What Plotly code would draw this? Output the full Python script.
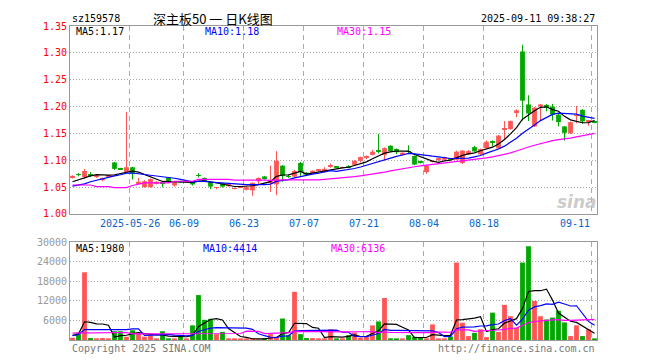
import plotly.graph_objects as go
import pandas as pd

# ---------------- data ----------------
holidays = ["2025-06-02"]
dates = [d.strftime("%Y-%m-%d") for d in pd.bdate_range("2025-05-12", "2025-09-11")
         if d.strftime("%Y-%m-%d") not in holidays]

open_ = [1.067, 1.074, 1.069, 1.073, 1.069, 1.063, 1.070, 1.096, 1.084, 1.078,
         1.087, 1.057, 1.050, 1.050, 1.056, 1.058, 1.068, 1.053, 1.061, 1.060,
         1.060, 1.072, 1.067, 1.060, 1.049, 1.057, 1.052, 1.047, 1.050, 1.045,
         1.044, 1.061, 1.070, 1.059, 1.055, 1.090, 1.070, 1.0695, 1.095, 1.077,
         1.0755, 1.081, 1.078, 1.089, 1.088, 1.086, 1.088, 1.0915, 1.099, 1.105,
         1.110, 1.119, 1.110, 1.127, 1.121, 1.110, 1.117, 1.108, 1.097, 1.078,
         1.097, 1.100, 1.101, 1.103, 1.101, 1.095, 1.111, 1.1245, 1.111, 1.1225,
         1.134, 1.122, 1.157, 1.158, 1.188, 1.3026, 1.204, 1.163, 1.200, 1.203,
         1.200, 1.185, 1.163, 1.150, 1.183, 1.194, 1.172, 1.173]
high = [1.072, 1.076, 1.084, 1.078, 1.072, 1.068, 1.072, 1.097, 1.086, 1.190,
        1.088, 1.067, 1.063, 1.066, 1.061, 1.059, 1.069, 1.060, 1.062, 1.063,
        1.061, 1.076, 1.068, 1.061, 1.050, 1.058, 1.057, 1.049, 1.052, 1.051,
        1.059, 1.068, 1.071, 1.090, 1.117, 1.091, 1.073, 1.082, 1.097, 1.078,
        1.081, 1.083, 1.087, 1.094, 1.089, 1.088, 1.091, 1.100, 1.107, 1.109,
        1.1195, 1.149, 1.124, 1.128, 1.122, 1.115, 1.128, 1.109, 1.099, 1.091,
        1.099, 1.105, 1.107, 1.104, 1.118, 1.119, 1.119, 1.127, 1.122, 1.137,
        1.137, 1.147, 1.173, 1.174, 1.195, 1.315, 1.221, 1.199, 1.205, 1.205,
        1.205, 1.186, 1.164, 1.172, 1.201, 1.195, 1.174, 1.174]
low = [1.066, 1.070, 1.065, 1.069, 1.067, 1.061, 1.069, 1.082, 1.082, 1.076,
       1.064, 1.056, 1.049, 1.049, 1.055, 1.050, 1.058, 1.051, 1.058, 1.059,
       1.053, 1.068, 1.061, 1.046, 1.046, 1.049, 1.051, 1.046, 1.048, 1.044,
       1.034, 1.056, 1.064, 1.041, 1.035, 1.060, 1.067, 1.068, 1.071, 1.071,
       1.075, 1.079, 1.077, 1.086, 1.086, 1.085, 1.085, 1.091, 1.096, 1.102,
       1.109, 1.113, 1.100, 1.116, 1.1116, 1.109, 1.113, 1.091, 1.094, 1.075,
       1.096, 1.099, 1.100, 1.101, 1.100, 1.093, 1.110, 1.116, 1.110, 1.121,
       1.126, 1.121, 1.138, 1.157, 1.180, 1.174, 1.173, 1.162, 1.174, 1.191,
       1.174, 1.163, 1.1365, 1.149, 1.169, 1.168, 1.164, 1.169]
close = [1.071, 1.073, 1.080, 1.072, 1.071, 1.067, 1.071, 1.084, 1.083, 1.087,
         1.075, 1.060, 1.061, 1.065, 1.060, 1.057, 1.059, 1.059, 1.060, 1.061,
         1.055, 1.071, 1.062, 1.051, 1.050, 1.051, 1.056, 1.048, 1.051, 1.050,
         1.058, 1.067, 1.065, 1.061, 1.099, 1.071, 1.069, 1.080, 1.078, 1.073,
         1.0805, 1.082, 1.084, 1.090, 1.087, 1.087, 1.087, 1.099, 1.106, 1.106,
         1.116, 1.116, 1.1226, 1.117, 1.115, 1.114, 1.116, 1.092, 1.096, 1.090,
         1.098, 1.104, 1.106, 1.102, 1.116, 1.118, 1.117, 1.1165, 1.121, 1.1345,
         1.133, 1.146, 1.159, 1.173, 1.193, 1.211, 1.187, 1.198, 1.204, 1.198,
         1.185, 1.171, 1.151, 1.171, 1.184, 1.1725, 1.1725, 1.170]
volume = [700, 2300, 20800, 600, 300, 600, 300, 2700, 2700, 1000,
          3000, 2000, 1000, 1500, 500, 2700, 300, 500, 1000, 500,
          4500, 13800, 6200, 6500, 1800, 2500, 500, 300, 300, 300,
          500, 200, 300, 1800, 1000, 6600, 1500, 14800, 1800, 600,
          600, 300, 300, 3300, 300, 300, 1500, 2300, 700, 1000,
          4500, 5700, 12900, 500, 300, 300, 1500, 1000, 700, 300,
          4800, 500, 500, 1100, 23800, 5300, 1200, 2200, 3300, 900,
          8400, 2500, 10800, 7300, 3800, 23800, 28800, 12000, 7300, 6300,
          6900, 9000, 5400, 1200, 4500, 1200, 3300, 300]

# moving-average values at the left edge (history before the window)
ma5_head = [1.060, 1.064, 1.067, 1.071]
ma10_head = [1.052, 1.054, 1.056, 1.060, 1.063, 1.065, 1.068, 1.071, 1.073]
ma30_head = [1.054, 1.054, 1.054, 1.054, 1.051, 1.051, 1.051, 1.049, 1.049, 1.049,
             1.053, 1.055, 1.058, 1.058, 1.058, 1.058, 1.058, 1.061, 1.061, 1.061,
             1.061, 1.0645, 1.0645, 1.0645, 1.0645, 1.0645, 1.0645, 1.063, 1.063]
vma5_head = [1400, 1800, 5600, 5400]
vma10_head = [1300, 1700, 3200, 3200, 3200, 3200, 3200, 3100, 3200]
vma30_head = [2100, 2100, 2100, 2100, 2100, 2300, 2300, 2300, 2300, 2300,
              1900, 1900, 1900, 1900, 1900, 1900, 1900, 1900, 1900, 1900,
              1900, 2000, 2000, 2000, 2000, 2000, 2000, 2000, 2000]

tick_dates = ["2025-05-26", "2025-06-09", "2025-06-23", "2025-07-07",
              "2025-07-21", "2025-08-04", "2025-08-18", "2025-09-11"]
tick_text = ["2025-05-26", "06-09", "06-23", "07-07", "07-21", "08-04", "08-18", "09-11"]
price_ticks = [1.00, 1.05, 1.10, 1.15, 1.20, 1.25, 1.30, 1.35]
vol_ticks = [6000, 12000, 18000, 24000, 30000]

title_code = "sz159578"
title_name = "深主板50 一 日K线图"
timestamp = "2025-09-11 09:38:27"
price_ma_labels = ["MA5:1.17", "MA10:1.18", "MA30:1.15"]
vol_ma_labels = ["MA5:1980", "MA10:4414", "MA30:6136"]

# ---------------- derived ----------------
idx = list(range(len(dates)))
UP, DN = "#ff5555", "#00a800"
colors = [UP if c >= o else DN for o, c in zip(open_, close)]


def ma(values, n, head):
    out = pd.Series(values).rolling(n).mean().tolist()
    for i, v in enumerate(head):
        out[i] = v
    return out


ma5, ma10, ma30 = ma(close, 5, ma5_head), ma(close, 10, ma10_head), ma(close, 30, ma30_head)
vma5, vma10, vma30 = ma(volume, 5, vma5_head), ma(volume, 10, vma10_head), ma(volume, 30, vma30_head)

fig = go.Figure()

# wicks
for col in (UP, DN):
    wx, wy = [], []
    for i in idx:
        if colors[i] == col:
            wx += [i, i, None]
            wy += [low[i], high[i], None]
    fig.add_trace(go.Scatter(x=wx, y=wy, mode="lines", line=dict(color=col, width=1),
                             xaxis="x", yaxis="y", hoverinfo="skip"))

# bodies
body_h = [max(abs(c - o), 0.0012) for o, c in zip(open_, close)]
body_b = [min(o, c) for o, c in zip(open_, close)]
fig.add_trace(go.Bar(x=idx, y=body_h, base=body_b, width=0.8, marker=dict(color=colors, line=dict(width=0)),
                     xaxis="x", yaxis="y", hoverinfo="skip"))

for vals, col in ((ma5, "#000000"), (ma10, "#0000ff"), (ma30, "#ff00ff")):
    fig.add_trace(go.Scatter(x=idx, y=vals, mode="lines", line=dict(color=col, width=1.2),
                             xaxis="x", yaxis="y", hoverinfo="skip"))

# volume
fig.add_trace(go.Bar(x=idx, y=volume, width=0.8, marker=dict(color=colors, line=dict(width=0)),
                     xaxis="x2", yaxis="y2", hoverinfo="skip"))
for vals, col in ((vma5, "#000000"), (vma10, "#0000ff"), (vma30, "#ff00ff")):
    fig.add_trace(go.Scatter(x=idx, y=vals, mode="lines", line=dict(color=col, width=1.2),
                             xaxis="x2", yaxis="y2", hoverinfo="skip"))

grid_x = [dates.index(d) - 0.42 for d in tick_dates]
xr = [-0.417, len(dates) - 0.583]
mono = "DejaVu Sans Mono"

common_x = dict(range=xr, showgrid=True, gridcolor="#aaaaaa", griddash="5px,4px", gridwidth=1,
                tickvals=grid_x, showticklabels=False, ticks="", zeroline=False,
                showline=True, mirror=True, linecolor="#999999", linewidth=1)
# the page body has an 8px default margin, so the figure is sized/offset to compensate
fig.update_layout(
    width=652, height=352, margin=dict(l=62, r=63, t=13, b=20),
    paper_bgcolor="white", plot_bgcolor="white", showlegend=False, barmode="overlay",
    font=dict(family=mono, size=10),
    xaxis=dict(domain=[0, 1], anchor="y", **common_x),
    xaxis2=dict(domain=[0, 1], anchor="y2", matches="x", **common_x),
    yaxis=dict(domain=[0.4013, 1], range=[1.00, 1.35], tickvals=price_ticks,
               ticktext=[f"{v:.2f}" for v in price_ticks], tickfont=dict(color="#ff0000", size=10, family=mono),
               showgrid=True, gridcolor="#aaaaaa", griddash="1px,2px", zeroline=False, ticks="",
               showline=True, mirror=True, linecolor="#999999", linewidth=1),
    yaxis2=dict(domain=[0, 0.311], range=[0, 30000], tickvals=vol_ticks,
                ticktext=[str(v) for v in vol_ticks], tickfont=dict(color="#999999", size=10, family=mono),
                showgrid=True, gridcolor="#aaaaaa", griddash="1px,2px", zeroline=False, ticks="",
                showline=True, mirror=True, linecolor="#999999", linewidth=1),
)

ann = []
# date labels
for gx, t, d in zip(grid_x, tick_text, tick_dates):
    last = d == tick_dates[-1]
    ann.append(dict(x=gx, y=0.37, xref="x", yref="paper", text=t, showarrow=False,
                    xanchor="right" if last else "center", yanchor="middle",
                    font=dict(color="#0a64c8", size=10, family=mono)))
# header
ann.append(dict(x=0, y=1.025, xref="paper", yref="paper", text=title_code, showarrow=False,
                xanchor="left", yanchor="middle", font=dict(color="#000", size=10, family=mono)))
ann.append(dict(x=0.2713, y=1.025, xref="paper", yref="paper", text=title_name, showarrow=False,
                xanchor="center", yanchor="middle", font=dict(color="#000", size=13, family="Noto Sans CJK SC")))
ann.append(dict(x=1, y=1.025, xref="paper", yref="paper", text=timestamp, showarrow=False,
                xanchor="right", yanchor="middle", font=dict(color="#000", size=10, family=mono)))
# MA labels
for t, xp, col in zip(price_ma_labels, [0.0076, 0.2524, 0.503], ["#000000", "#0000ff", "#ff00ff"]):
    ann.append(dict(x=xp, y=0.981, xref="paper", yref="paper", text=t, showarrow=False,
                    xanchor="left", yanchor="middle", font=dict(color=col, size=10, family=mono)))
for t, xp, col in zip(vol_ma_labels, [0.0076, 0.2486, 0.4915], ["#000000", "#0000ff", "#ff00ff"]):
    ann.append(dict(x=xp, y=0.2915, xref="paper", yref="paper", text=t, showarrow=False,
                    xanchor="left", yanchor="middle", font=dict(color=col, size=10, family=mono)))
# footer
ann.append(dict(x=0, y=-0.027, xref="paper", yref="paper", text="Copyright 2025 SINA.COM", showarrow=False,
                xanchor="left", yanchor="middle", font=dict(color="#777777", size=10, family=mono)))
ann.append(dict(x=1, y=-0.027, xref="paper", yref="paper", text="http://finance.sina.com.cn", showarrow=False,
                xanchor="right", yanchor="middle", font=dict(color="#777777", size=10, family=mono)))
# watermark
ann.append(dict(x=0.962, y=0.44, xref="paper", yref="paper", text="<b><i>sina</i></b>", showarrow=False,
                xanchor="center", yanchor="middle", font=dict(color="rgba(190,190,190,0.8)", size=17, family="DejaVu Sans")))
fig.update_layout(annotations=ann)

fig.write_html("out.html")
